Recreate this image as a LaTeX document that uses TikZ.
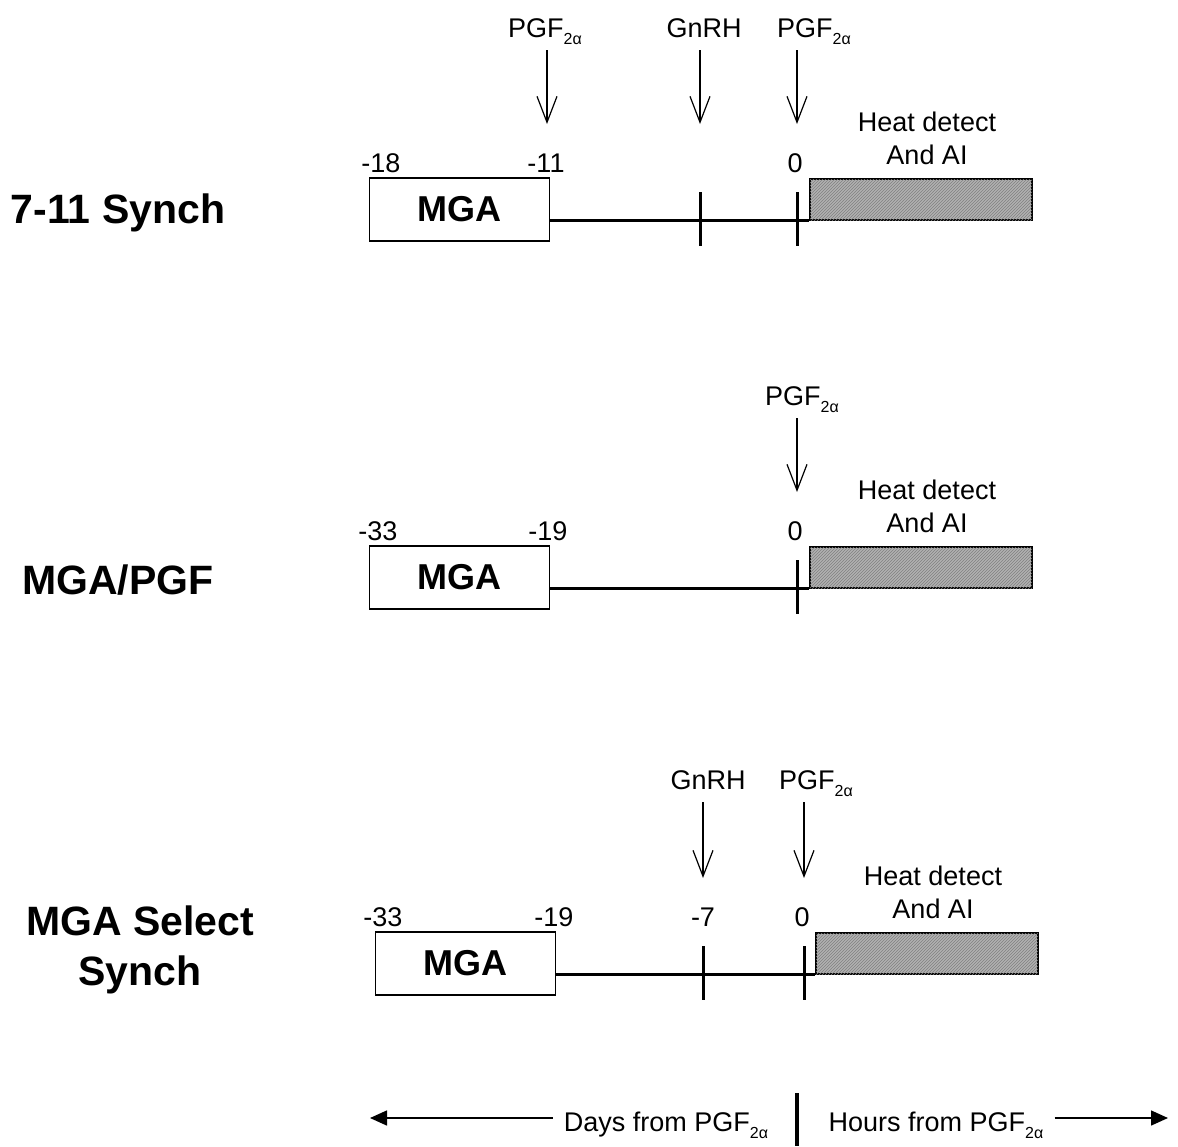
\documentclass[tikz,border=0pt]{standalone}
\usepackage{fontspec}
\setmainfont{Liberation Sans}
\usetikzlibrary{arrows.meta,positioning,patterns}

\newcommand{\PGFa}{PGF\raisebox{-7pt}{\fontsize{16}{16}\selectfont 2α}}

\begin{document}
\begin{tikzpicture}[x=1pt, y=-1pt, every node/.style={font=\fontsize{27}{33}\selectfont, inner sep=0pt},
  title/.style={font=\fontsize{41}{50}\selectfont\bfseries, align=center},
  mgabox/.style={rectangle, draw, line width=1.5pt, minimum width=180pt, minimum height=63pt, font=\fontsize{36}{40}\selectfont\bfseries},
  heatbox/.style={rectangle, draw, line width=1.5pt, minimum width=222pt, minimum height=41pt, fill=gray!60, postaction={pattern=north east lines, pattern color=black!50}},
  timeline/.style={line width=3pt},
  tickmark/.style={line width=3pt},
  num/.style={anchor=base},
  dosename/.style={anchor=base, text depth=0pt},
  dose/.style={-{Straight Barb[length=26pt,width=20pt]}, line width=1.2pt, shorten <=13pt},
  span/.style={-{Triangle[length=17pt,width=15pt]}, line width=1.5pt, shorten <=11pt}]

\useasboundingbox (0,0) rectangle (1178,1146);

% 7-11 Synch
\node[title] (row1) at (118,213) {7-11 Synch};
\node[mgabox] (mga1) at (459.5,209.5) {MGA};
\node[heatbox] (hd1) at (921,199.5) {};
\node[above=13pt of hd1, xshift=6pt, align=center] (heat1) {Heat detect\\And AI};
\draw[timeline] (mga1.east |- hd1.south) -- (hd1.south west);
\draw[tickmark] (700,192) -- (700,246);
\draw[tickmark] (797,192) -- (797,246);
\node[num] (n1a) at (381,172) {-18};
\node[num] (n1b) at (546,172) {-11};
\node[num] (n1c) at (795,172) {0};
\node[dosename] (p1a) at (545,37) {\PGFa};
\node[dosename] (g1) at (704,37) {GnRH};
\node[dosename] (p1b) at (814,37) {\PGFa};
\coordinate (t1a) at (547,124);
\coordinate (t1b) at (700,124);
\coordinate (t1c) at (797,124);
\draw[dose] (p1a.south -| t1a) -- (t1a);
\draw[dose] (g1.south -| t1b) -- (t1b);
\draw[dose] (p1b.south -| t1c) -- (t1c);

% MGA/PGF
\node[title] (row2) at (118,580) {MGA/PGF};
\node[mgabox] (mga2) at (459.5,577.5) {MGA};
\node[heatbox] (hd2) at (921,567.5) {};
\node[above=13pt of hd2, xshift=6pt, align=center] (heat2) {Heat detect\\And AI};
\draw[timeline] (mga2.east |- hd2.south) -- (hd2.south west);
\draw[tickmark] (797,560) -- (797,614);
\node[num] (n2a) at (378,540) {-33};
\node[num] (n2b) at (548,540) {-19};
\node[num] (n2c) at (795,540) {0};
\node[dosename] (p2) at (802,405) {\PGFa};
\coordinate (t2) at (797,492);
\draw[dose] (p2.south -| t2) -- (t2);

% MGA Select Synch
\node[title] (row3) at (140,950) {MGA Select\\Synch};
\node[mgabox] (mga3) at (465.5,963.5) {MGA};
\node[heatbox] (hd3) at (927,953.5) {};
\node[above=13pt of hd3, xshift=6pt, align=center] (heat3) {Heat detect\\And AI};
\draw[timeline] (mga3.east |- hd3.south) -- (hd3.south west);
\draw[tickmark] (703,946) -- (703,1000);
\draw[tickmark] (804,946) -- (804,1000);
\node[num] (n3a) at (383,926) {-33};
\node[num] (n3b) at (554,926) {-19};
\node[num] (n3c) at (703,926) {-7};
\node[num] (n3d) at (802,926) {0};
\node[dosename] (g3) at (708,789) {GnRH};
\node[dosename] (p3) at (816,789) {\PGFa};
\coordinate (t3a) at (703,878);
\coordinate (t3b) at (804,878);
\draw[dose] (g3.south -| t3a) -- (t3a);
\draw[dose] (p3.south -| t3b) -- (t3b);

% days / hours
\node[dosename] (days) at (666,1131) {Days from \PGFa};
\node[dosename] (hours) at (936,1131) {Hours from \PGFa};
\coordinate (dayend) at (370,1118);
\coordinate (hourend) at (1168,1118);
\draw[span] (days.west |- dayend) -- (dayend);
\draw[span] (hours.east |- hourend) -- (hourend);
\coordinate (barT) at (797,1093);
\coordinate (barB) at (797,1146);
\draw[line width=4pt] (barT) -- (barB);

\end{tikzpicture}
\end{document}
